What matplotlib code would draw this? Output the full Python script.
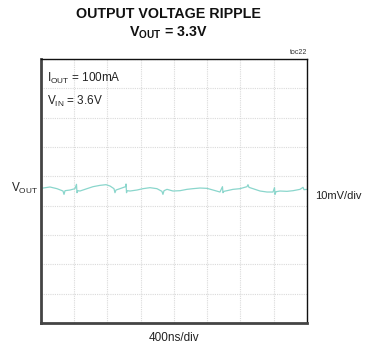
import numpy as np
import matplotlib
matplotlib.use("Agg")
import matplotlib.pyplot as plt

plt.rcParams['font.family'] = ['Liberation Sans Narrow', 'Liberation Sans', 'DejaVu Sans']
plt.rcParams['mathtext.default'] = 'regular'

# scope capture: time in ns, ripple in mV around the 3.3V level
t_ns = [0, 108, 192, 265, 277, 289, 349, 409, 427, 433, 445, 469, 553, 626, 710, 782,
        830, 878, 890, 902, 950, 1017, 1023, 1029, 1035, 1071, 1155, 1227, 1311, 1395,
        1455, 1467, 1480, 1516, 1588, 1672, 1756, 1828, 1913, 1997, 2069, 2153, 2183,
        2189, 2201, 2237, 2310, 2394, 2478, 2490, 2502, 2550, 2635, 2719, 2791, 2809,
        2815, 2827, 2875, 2959, 3032, 3116, 3152, 3164, 3200]
v_mv = [0.0, 0.46, -0.11, -0.91, -2.05, -0.80, -0.57, -0.11, 1.37, -1.48, -0.80, -0.91,
        -0.11, 0.57, 1.02, 1.25, 0.80, -0.11, -1.48, -0.57, -0.11, 0.57, 1.48, -1.48,
        -0.80, -0.91, -0.57, -0.11, 0.23, -0.11, -1.02, -2.05, -0.80, -0.34, -0.91,
        -0.80, -0.34, -0.11, 0.11, 0.0, -0.57, -1.25, 0.57, -1.48, -1.02, -0.80, -0.34,
        -0.11, 0.57, 1.25, 0.34, -0.11, -0.91, -1.25, -1.25, 0.23, -2.05, -1.14, -0.91,
        -1.02, -0.80, -0.34, 0.34, -0.46, -0.34]

ns_per_div = 400
mv_per_div = 10
n_xdiv = 8
n_ydiv = 9
y_low = -45.9  # trace sits a bit below the middle of the screen

fig = plt.figure(figsize=(3.65, 3.47), dpi=100)
ax = fig.add_axes([0.1123, 0.0692, 0.7288, 0.7608])

ax.plot(t_ns, v_mv, color='#8ad6cc', lw=0.9)

ax.set_xlim(0, ns_per_div * n_xdiv)
ax.set_ylim(y_low, y_low + mv_per_div * n_ydiv)
ax.set_xticks(np.arange(0, ns_per_div * n_xdiv + 1, ns_per_div))
ax.set_yticks(y_low + mv_per_div * np.arange(n_ydiv + 1))
ax.tick_params(length=0, labelbottom=False, labelleft=False)
ax.grid(True, color='#dadada', ls=(0, (1, 1)), lw=0.8)

for side in ['left', 'bottom']:
    ax.spines[side].set_linewidth(2.0)
    ax.spines[side].set_color('#444444')
for side in ['top', 'right']:
    ax.spines[side].set_linewidth(1.0)
    ax.spines[side].set_color('#111111')

fig.text(168 / 365, 1 - 14 / 347, 'OUTPUT VOLTAGE RIPPLE', ha='center', va='center',
         fontsize=10.3, fontweight='bold', color='#111111')
fig.text(168 / 365, 1 - 33 / 347, r'V$_{OUT}$ = 3.3V', ha='center', va='center',
         fontsize=10.3, fontweight='bold', color='#111111')
fig.text(307 / 365, 1 - 52 / 347, 'toc22', ha='right', va='center', fontsize=5, color='#333333')

ax.text(0.022, 0.925, r'I$_{OUT}$ = 100mA', transform=ax.transAxes, ha='left', va='center',
        fontsize=8.5, color='#222222')
ax.text(0.022, 0.84, r'V$_{IN}$ = 3.6V', transform=ax.transAxes, ha='left', va='center',
        fontsize=8.5, color='#222222')

fig.text(38 / 365, 1 - 188 / 347, r'V$_{OUT}$', ha='right', va='center', fontsize=8.5, color='#222222')
fig.text(315 / 365, 1 - 196 / 347, '10mV/div', ha='left', va='center', fontsize=8, color='#222222')
fig.text(174 / 365, 1 - 338 / 347, '400ns/div', ha='center', va='center', fontsize=8.5, color='#222222')

fig.savefig('out.png', dpi=100)
